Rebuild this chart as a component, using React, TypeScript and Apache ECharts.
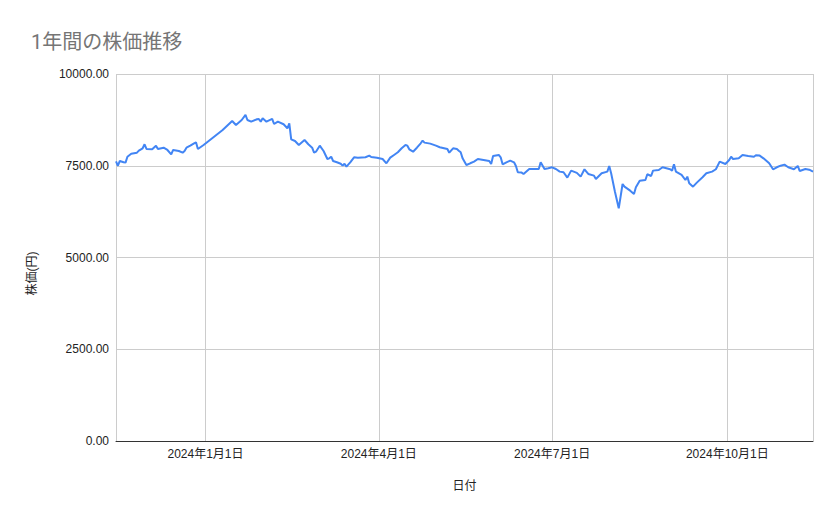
import React, { useEffect, useRef } from "react";
import * as echarts from "echarts";

const dates: string[] = [
  "2023-11-15", "2023-11-16", "2023-11-17", "2023-11-19", "2023-11-20", "2023-11-21", "2023-11-23", "2023-11-26", "2023-11-27", "2023-11-29", "2023-11-30",
  "2023-12-01", "2023-12-04", "2023-12-06", "2023-12-07", "2023-12-10", "2023-12-12", "2023-12-14", "2023-12-15", "2023-12-18", "2023-12-20", "2023-12-21", "2023-12-22", "2023-12-24", "2023-12-26", "2023-12-27", "2023-12-28", "2023-12-31",
  "2024-01-10", "2024-01-15", "2024-01-17", "2024-01-20", "2024-01-22", "2024-01-23", "2024-01-25", "2024-01-28", "2024-01-29", "2024-01-30", "2024-01-31",
  "2024-02-02", "2024-02-05", "2024-02-06", "2024-02-08", "2024-02-11", "2024-02-13", "2024-02-14", "2024-02-15", "2024-02-17", "2024-02-19", "2024-02-22", "2024-02-24", "2024-02-26", "2024-02-27", "2024-02-28",
  "2024-03-01", "2024-03-03", "2024-03-05", "2024-03-06", "2024-03-07", "2024-03-08", "2024-03-10", "2024-03-12", "2024-03-13", "2024-03-14", "2024-03-15", "2024-03-17", "2024-03-19", "2024-03-21", "2024-03-25", "2024-03-27", "2024-03-28", "2024-03-31",
  "2024-04-03", "2024-04-05", "2024-04-07", "2024-04-09", "2024-04-11", "2024-04-13", "2024-04-15", "2024-04-16", "2024-04-17", "2024-04-19", "2024-04-21", "2024-04-23", "2024-04-24", "2024-04-25", "2024-04-28",
  "2024-05-01", "2024-05-03", "2024-05-07", "2024-05-08", "2024-05-10", "2024-05-12", "2024-05-13", "2024-05-14", "2024-05-15", "2024-05-17", "2024-05-19", "2024-05-21", "2024-05-23", "2024-05-26", "2024-05-29", "2024-05-30", "2024-05-31",
  "2024-06-03", "2024-06-04", "2024-06-05", "2024-06-07", "2024-06-09", "2024-06-11", "2024-06-12", "2024-06-13", "2024-06-15", "2024-06-16", "2024-06-19", "2024-06-21", "2024-06-24", "2024-06-25", "2024-06-27", "2024-06-29",
  "2024-07-01", "2024-07-03", "2024-07-05", "2024-07-07", "2024-07-09", "2024-07-11", "2024-07-14", "2024-07-16", "2024-07-18", "2024-07-20", "2024-07-23", "2024-07-24", "2024-07-27", "2024-07-30", "2024-07-31",
  "2024-08-01", "2024-08-03", "2024-08-05", "2024-08-07", "2024-08-08", "2024-08-11", "2024-08-13", "2024-08-14", "2024-08-16", "2024-08-19", "2024-08-20", "2024-08-22", "2024-08-23", "2024-08-26", "2024-08-28",
  "2024-09-01", "2024-09-02", "2024-09-03", "2024-09-04", "2024-09-07", "2024-09-09", "2024-09-10", "2024-09-11", "2024-09-13", "2024-09-15", "2024-09-18", "2024-09-20", "2024-09-23", "2024-09-25", "2024-09-27", "2024-09-30",
  "2024-10-02", "2024-10-03", "2024-10-04", "2024-10-07", "2024-10-09", "2024-10-12", "2024-10-15", "2024-10-16", "2024-10-18", "2024-10-20", "2024-10-23", "2024-10-25", "2024-10-27", "2024-10-29", "2024-10-31",
  "2024-11-02", "2024-11-05", "2024-11-07", "2024-11-08", "2024-11-11", "2024-11-13", "2024-11-15",
];

const prices: number[] = [
  7620, 7500, 7630, 7594, 7585, 7747, 7829, 7856, 7911, 7976, 8085,
  7957, 7948, 8047, 7957, 7992, 7930, 7812, 7930, 7902, 7856, 7902, 7992, 8047, 8112, 8139, 7957, 8066,
  8475, 8720, 8611, 8747, 8884, 8747, 8702, 8766, 8775, 8702, 8793,
  8702, 8775, 8638, 8702, 8630, 8521, 8657, 8221, 8175, 8066, 8202, 8085, 7992, 7856, 7883,
  8047, 7902, 7684, 7702, 7747, 7630, 7594, 7556, 7502, 7556, 7475, 7594, 7731, 7720, 7731, 7775, 7739, 7720,
  7684, 7567, 7720, 7794, 7867, 7976, 8066, 8047, 7948, 7883, 7992, 8112, 8184, 8130, 8103,
  8047, 8003, 7957, 7856, 7976, 7957, 7911, 7867, 7702, 7521, 7567, 7611, 7684, 7657, 7630, 7548, 7766,
  7794, 7731, 7540, 7594, 7638, 7594, 7494, 7322, 7313, 7276, 7412, 7412, 7412, 7594, 7412, 7431,
  7458, 7412, 7340, 7322, 7176, 7367, 7305, 7203, 7404, 7276, 7230, 7140, 7295, 7340, 7494,
  7295, 6793, 6341, 7003, 6930, 6821, 6731, 6913, 7094, 7112, 7268, 7221, 7367, 7385, 7458,
  7404, 7367, 7540, 7340, 7249, 7112, 7203, 7022, 6930, 7040, 7185, 7295, 7340, 7404, 7611, 7548,
  7657, 7747, 7684, 7702, 7794, 7766, 7747, 7785, 7776, 7702, 7567, 7404, 7458, 7502, 7530,
  7458, 7404, 7494, 7358, 7412, 7393, 7340,
];

const yTicks: number[] = [0, 2500, 5000, 7500, 10000];

const TITLE = "1年間の株価推移";
const X_NAME = "日付";
const Y_NAME = "株価(円)";

const FONT = "Arial, 'Liberation Sans', 'Noto Sans CJK JP', sans-serif";

export default function App() {
  const ref = useRef<HTMLDivElement>(null);

  useEffect(() => {
    if (!ref.current) return;
    const chart = echarts.init(ref.current, null, { renderer: "svg" });
    const DAY = 24 * 3600 * 1000;
    chart.setOption({
      animation: false,
      backgroundColor: "#ffffff",
      title: {
        text: TITLE,
        left: 26,
        top: 27,
        textStyle: {
          fontSize: 20,
          fontWeight: "normal",
          color: "#757575",
          fontFamily: "Roboto, 'Noto Sans CJK JP', sans-serif",
        },
      },
      grid: { left: 116, right: 26, top: 74, bottom: 78, containLabel: false },
      xAxis: {
        type: "time",
        min: "dataMin",
        max: "dataMax",
        splitNumber: 4,
        minInterval: 90 * DAY,
        maxInterval: 92 * DAY,
        name: X_NAME,
        nameLocation: "middle",
        nameGap: 39,
        nameTextStyle: { fontSize: 12, color: "#222", fontFamily: FONT },
        axisLine: { show: true, lineStyle: { color: "#333", width: 1 } },
        axisTick: { show: false },
        splitLine: { show: true, lineStyle: { color: "#cccccc", width: 1 } },
        axisLabel: {
          showMinLabel: false,
          showMaxLabel: false,
          margin: 7,
          fontSize: 12,
          color: "#222",
          fontFamily: FONT,
          formatter: (v: number) => {
            const d = new Date(v);
            return `${d.getFullYear()}年${d.getMonth() + 1}月${d.getDate()}日`;
          },
        },
      },
      yAxis: {
        type: "value",
        min: yTicks[0],
        max: yTicks[yTicks.length - 1],
        interval: yTicks[1] - yTicks[0],
        name: Y_NAME,
        nameLocation: "middle",
        nameGap: 78,
        nameRotate: 90,
        nameTextStyle: { fontSize: 12, color: "#222", fontFamily: FONT, padding: [0, 32, 0, 0] },
        axisLine: { show: false },
        axisTick: { show: false },
        splitLine: { show: true, lineStyle: { color: "#cccccc", width: 1 } },
        axisLabel: {
          margin: 7,
          fontSize: 12,
          color: "#222",
          fontFamily: FONT,
          formatter: (v: number) => v.toFixed(2),
        },
      },
      series: [
        {
          type: "line",
          data: dates.map((d, i) => [d, prices[i]]),
          showSymbol: false,
          symbol: "none",
          lineStyle: { color: "#4285F4", width: 2 },
          itemStyle: { color: "#4285F4" },
        },
      ],
    });
    return () => chart.dispose();
  }, []);

  return <div ref={ref} style={{ width: 839, height: 519, position: "absolute", left: 0, top: 0 }} />;
}
